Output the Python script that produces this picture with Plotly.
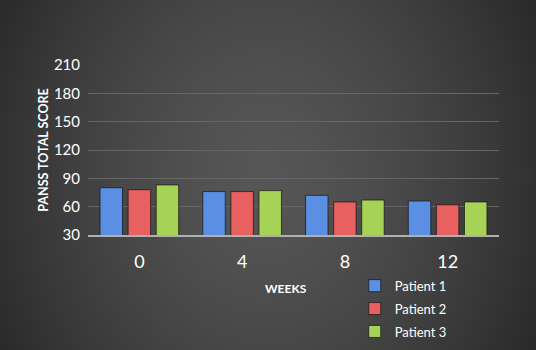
import base64, struct, zlib, math
import plotly.graph_objects as go

weeks = ["0", "4", "8", "12"]
patient1 = [80, 76, 72, 66]
patient2 = [78, 76, 65, 62]
patient3 = [83, 77, 67, 65]
series_names = ["Patient 1", "Patient 2", "Patient 3"]
series_colors = ["#5b8fe4", "#e86060", "#a6d255"]

W, H = 536, 350
L, R, T, B = 88, 37, 65, 115
pw, ph = W - L - R, H - T - B

# radial gradient background as PNG
def make_png(w, h):
    cx, cy, rx, ry = 265, 175, 330, 400
    raw = bytearray()
    for y in range(h):
        raw.append(0)
        for x in range(w):
            d = math.sqrt(((x - cx) / rx) ** 2 + ((y - cy) / ry) ** 2)
            d = min(d, 1.2)
            v = int(max(30, min(255, 86 - 50 * d ** 1.5)))
            raw.append(v)
    def chunk(t, data):
        c = struct.pack(">I", len(data)) + t + data
        return c + struct.pack(">I", zlib.crc32(t + data) & 0xffffffff)
    png = b"\x89PNG\r\n\x1a\n"
    png += chunk(b"IHDR", struct.pack(">IIBBBBB", w, h, 8, 0, 0, 0, 0))
    png += chunk(b"IDAT", zlib.compress(bytes(raw), 9))
    png += chunk(b"IEND", b"")
    return "data:image/png;base64," + base64.b64encode(png).decode()

bg = make_png(W, H)

fig = go.Figure()
for i, (name, vals) in enumerate(zip(series_names, [patient1, patient2, patient3])):
    fig.add_trace(go.Bar(
        x=weeks, y=vals, name=name, legendgroup=name,
        marker=dict(color=series_colors[i], line=dict(color="rgba(20,20,20,0.7)", width=1)),
    ))

font_family = "Lato, 'Open Sans', sans-serif"
fig.update_layout(
    width=W, height=H,
    margin=dict(l=L, r=R, t=T, b=B, autoexpand=False),
    paper_bgcolor="#333333",
    plot_bgcolor="rgba(0,0,0,0)",
    barmode="group", bargap=0.18, bargroupgap=0.2,
    font=dict(family=font_family, color="white"),
    images=[dict(source=bg, xref="paper", yref="paper",
                 x=-L / pw, y=1 + T / ph, sizex=W / pw, sizey=H / ph,
                 xanchor="left", yanchor="top", sizing="stretch", layer="below")],
    xaxis=dict(type="category", showgrid=False, showline=True, linecolor="#b0b0b0", linewidth=2,
               ticks="outside", ticklen=9, tickcolor="rgba(0,0,0,0)",
               tickfont=dict(size=18, color="white"), zeroline=False),
    yaxis=dict(range=[30, 210], dtick=30, tick0=30, showgrid=True, gridcolor="#666666", gridwidth=1,
               zeroline=False, showline=False, ticks="outside", ticklen=4, tickcolor="rgba(0,0,0,0)",
               tickfont=dict(size=15, color="white"),
               title=dict(text="<b>PANSS TOTAL SCORE</b>", font=dict(size=12.5, color="white"), standoff=2)),
    legend=dict(x=0.649, y=-0.21, xanchor="left", yanchor="top", bgcolor="rgba(0,0,0,0)",
                font=dict(size=13, color="white"), traceorder="grouped", tracegroupgap=3),
    annotations=[dict(text="<b>WEEKS</b>", x=(286 - L) / pw, y=(235 - 288) / ph, xref="paper", yref="paper",
                      showarrow=False, font=dict(size=12, color="white"), xanchor="center", yanchor="middle")],
)
fig.write_html("out.html", config={"displayModeBar": False},
               post_script="document.body.style.margin='0';")
